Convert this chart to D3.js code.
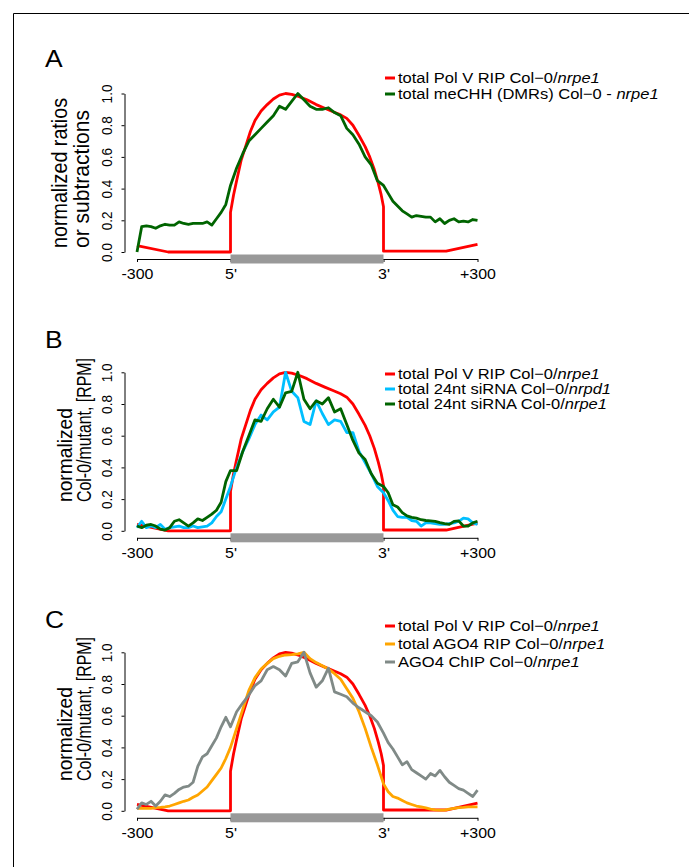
<!DOCTYPE html>
<html>
<head>
<meta charset="utf-8">
<script src="https://cdn.jsdelivr.net/npm/d3@7"></script>
<style>
  body { margin: 0; background: #fff; }
  svg { display: block; font-family: "Liberation Sans", Arial, sans-serif; }
</style>
</head>
<body>
<div id="chart"></div>
<script>
// bins: upstream flank in bp (-300..0), gene body in % (4..100), downstream flank shifted by 100 (+15..+300 -> 115..400)
const upBins = [-300, -285, -270, -255, -240, -225, -210, -195, -180, -165, -150, -135, -120, -105, -90, -75, -60, -45, -30, -15, 0];
const bodyBins = [4, 8, 12, 16, 20, 24, 28, 32, 36, 40, 44, 48, 52, 56, 60, 64, 68, 72, 76, 80, 84, 88, 92, 96, 100];
const downBins = [115, 130, 145, 160, 175, 190, 205, 220, 235, 250, 265, 280, 295, 310, 325, 340, 355, 370, 385, 400];
const bins = [...upBins, ...bodyBins, ...downBins];

const xTickPos = [-300, 0, 100, 400];
const xTickLabels = ["-300", "5'", "3'", "+300"];
const yTicks = [0, 0.2, 0.4, 0.6, 0.8, 1.0];

// total Pol V RIP Col-0/nrpe1 (same curve in all panels), own positions because of the steps at 5' and 3'
const polVPos = [-300, -200, 0, 0, 2, 4, 7, 10, 13, 16, 20, 24, 28, 32, 36, 40, 45, 50, 56, 62, 67, 72, 76, 80, 84, 88, 91, 94, 96.6, 98.5, 100, 100, 300, 400];
const polV = [0.04, 0.0, 0.0, 0.25, 0.36, 0.45, 0.58, 0.67, 0.76, 0.83, 0.89, 0.93, 0.965, 0.99, 1.0, 0.995, 0.98, 0.96, 0.93, 0.905, 0.885, 0.865, 0.843, 0.80, 0.735, 0.665, 0.60, 0.52, 0.433, 0.36, 0.286, 0.005, 0.005, 0.048];

// panel A: total meCHH (DMRs) Col-0 - nrpe1
const meCHH = [
  0.0, 0.16, 0.165, 0.16, 0.15, 0.165, 0.175, 0.17, 0.17, 0.19, 0.18, 0.175, 0.18, 0.18, 0.18, 0.19, 0.17, 0.21, 0.25, 0.30, 0.42,
  0.53, 0.62, 0.70, 0.74, 0.78, 0.82, 0.86, 0.92, 0.90, 0.95, 1.0, 0.96, 0.92, 0.90, 0.90, 0.91, 0.88, 0.86, 0.78, 0.74, 0.68, 0.60, 0.55, 0.45, 0.42,
  0.37, 0.32, 0.29, 0.26, 0.24, 0.22, 0.23, 0.225, 0.22, 0.22, 0.19, 0.21, 0.18, 0.20, 0.21, 0.19, 0.195, 0.19, 0.205, 0.20
];

// panel B: total 24nt siRNA Col-0/nrpd1 and Col-0/nrpe1
const sirnaNrpd1 = [
  0.02, 0.06, 0.02, 0.03, 0.02, 0.04, 0.01, 0.02, 0.025, 0.03, 0.02, 0.02, 0.03, 0.02, 0.025, 0.03, 0.05, 0.09, 0.12, 0.20, 0.28,
  0.40, 0.50, 0.58, 0.67, 0.73, 0.70, 0.75, 0.78, 1.0, 0.88, 0.84, 0.69, 0.67, 0.82, 0.74, 0.67, 0.70, 0.69, 0.62, 0.62, 0.50, 0.43, 0.36, 0.28, 0.24,
  0.19, 0.13, 0.09, 0.085, 0.085, 0.065, 0.06, 0.03, 0.05, 0.05, 0.045, 0.04, 0.04, 0.045, 0.05, 0.06, 0.08, 0.075, 0.05, 0.04
];
const sirnaNrpe1 = [
  0.03, 0.02, 0.035, 0.04, 0.03, 0.01, 0.005, 0.02, 0.06, 0.07, 0.05, 0.03, 0.05, 0.075, 0.065, 0.085, 0.105, 0.13, 0.18, 0.31, 0.38,
  0.38, 0.50, 0.60, 0.70, 0.69, 0.77, 0.83, 0.78, 0.87, 0.88, 1.0, 0.83, 0.77, 0.82, 0.80, 0.84, 0.75, 0.77, 0.67, 0.57, 0.49, 0.45, 0.36, 0.30, 0.28,
  0.24, 0.165, 0.15, 0.115, 0.094, 0.085, 0.08, 0.07, 0.065, 0.063, 0.06, 0.052, 0.045, 0.04, 0.06, 0.063, 0.03, 0.03, 0.05, 0.06
];

// panel C: total AGO4 RIP Col-0/nrpe1 and AGO4 ChIP Col-0/nrpe1
const ago4Rip = [
  0.015, 0.015, 0.015, 0.015, 0.02, 0.022, 0.025, 0.03, 0.04, 0.05, 0.06, 0.068, 0.085, 0.10, 0.125, 0.15, 0.19, 0.23, 0.27, 0.33, 0.40,
  0.52, 0.64, 0.76, 0.84, 0.895, 0.93, 0.96, 0.975, 0.983, 0.985, 0.99, 1.0, 0.96, 0.935, 0.915, 0.895, 0.865, 0.83, 0.77, 0.71, 0.625, 0.52, 0.40, 0.29, 0.17,
  0.12, 0.09, 0.08, 0.065, 0.05, 0.04, 0.03, 0.025, 0.018, 0.01, 0.006, 0.004, 0.004, 0.01, 0.015, 0.02, 0.022, 0.025, 0.025, 0.025
];
const ago4Chip = [
  0.01, 0.05, 0.04, 0.06, 0.03, 0.06, 0.10, 0.09, 0.11, 0.135, 0.15, 0.155, 0.18, 0.28, 0.34, 0.36, 0.41, 0.46, 0.53, 0.59, 0.53,
  0.625, 0.68, 0.73, 0.79, 0.82, 0.89, 0.91, 0.89, 0.85, 0.93, 0.94, 1.0, 0.87, 0.78, 0.82, 0.90, 0.75, 0.735, 0.72, 0.68, 0.65, 0.625, 0.60, 0.56, 0.49,
  0.43, 0.39, 0.34, 0.29, 0.31, 0.26, 0.24, 0.22, 0.20, 0.235, 0.22, 0.255, 0.215, 0.18, 0.16, 0.14, 0.13, 0.11, 0.09, 0.13
];

const width = 689, height = 867;
const fontScale = "scale(1.1,1)";

const svg = d3.select("#chart").append("svg")
    .attr("width", width)
    .attr("height", height);

svg.append("rect").attr("width", width).attr("height", height).attr("fill", "#fff");
// frame
svg.append("path").attr("d", "M13.5,867V13.5H689").attr("fill", "none").attr("stroke", "#000");

const x = d3.scaleLinear().domain([-300, 0, 100, 400]).range([137, 230.5, 383.5, 477.5]);

const panels = [
    {
        letter: "A", top: 93.5, letterY: 67,
        yTitle: [
            { text: "normalized ratios", x: 67, size: 19.5, len: 150 },
            { text: "or subtractions", x: 89, size: 19.5, len: 138 },
        ],
        titleStart: 248,
        series: [
            { pos: polVPos, values: polV, color: "#ff0000" },
            { pos: bins, values: meCHH, color: "#006400" },
        ],
        legend: [
            { text: "total Pol V RIP Col\u22120/", it: "nrpe1", color: "#ff0000" },
            { text: "total meCHH (DMRs) Col\u22120 - ", it: "nrpe1", color: "#006400" },
        ],
        legendY: [83, 99],
    },
    {
        letter: "B", top: 372.3, letterY: 348,
        yTitle: [
            { text: "normalized", x: 72, size: 18, len: 94 },
            { text: "Col-0/mutant, [RPM]", x: 91, size: 18, len: 144 },
        ],
        titleStart: 502,
        series: [
            { pos: polVPos, values: polV, color: "#ff0000" },
            { pos: bins, values: sirnaNrpd1, color: "#00bfff" },
            { pos: bins, values: sirnaNrpe1, color: "#006400" },
        ],
        legend: [
            { text: "total Pol V RIP Col\u22120/", it: "nrpe1", color: "#ff0000" },
            { text: "total 24nt siRNA Col\u22120/", it: "nrpd1", color: "#00bfff" },
            { text: "total 24nt siRNA Col-0/", it: "nrpe1", color: "#006400" },
        ],
        legendY: [379, 394, 409],
    },
    {
        letter: "C", top: 652.3, letterY: 628,
        yTitle: [
            { text: "normalized", x: 72, size: 18, len: 94 },
            { text: "Col-0/mutant, [RPM]", x: 91, size: 18, len: 144 },
        ],
        titleStart: 781,
        series: [
            { pos: polVPos, values: polV, color: "#ff0000" },
            { pos: bins, values: ago4Rip, color: "#ffa500" },
            { pos: bins, values: ago4Chip, color: "#808a87" },
        ],
        legend: [
            { text: "total Pol V RIP Col\u22120/", it: "nrpe1", color: "#ff0000" },
            { text: "total AGO4 RIP Col\u22120/", it: "nrpe1", color: "#ffa500" },
            { text: "AGO4 ChIP Col\u22120/", it: "nrpe1", color: "#808a87" },
        ],
        legendY: [631, 649, 667],
    },
];

panels.forEach(p => {
    const y = d3.scaleLinear().domain([0, 1]).range([p.top + 158.5, p.top]);
    const g = svg.append("g");

    // panel letter
    g.append("text")
        .attr("transform", `translate(45,${p.letterY}) ${fontScale}`)
        .style("font-size", "24px")
        .text(p.letter);

    // y axis title, two lines
    p.yTitle.forEach(line => {
        g.append("text")
            .attr("transform", `translate(${line.x},${p.titleStart}) ${fontScale} rotate(-90)`)
            .attr("text-anchor", "start")
            .attr("textLength", line.len)
            .attr("lengthAdjust", "spacingAndGlyphs")
            .style("font-size", line.size + "px")
            .text(line.text);
    });

    // y axis
    const yAxis = g.append("g")
        .attr("transform", "translate(124.5,0)")
        .call(d3.axisLeft(y).tickValues(yTicks).tickFormat(d3.format(".1f")).tickSize(3).tickSizeOuter(0));
    yAxis.selectAll("text")
        .attr("x", null).attr("dy", null)
        .attr("text-anchor", "middle")
        .attr("transform", `translate(-12.5,0) ${fontScale} rotate(-90)`)
        .style("font-size", "13.5px")
        .style("font-family", "inherit");

    // x axis
    const xAxis = g.append("g")
        .attr("transform", `translate(0,${y(0) + 7})`)
        .call(d3.axisBottom(x).tickValues(xTickPos).tickFormat((d, i) => xTickLabels[i]).tickSize(3).tickSizeOuter(0));
    xAxis.selectAll("text")
        .attr("y", null).attr("dy", null)
        .attr("transform", `translate(0,20) ${fontScale}`)
        .style("font-size", "14.5px")
        .style("font-family", "inherit");

    // gene body bar
    g.append("rect")
        .attr("x", x(0))
        .attr("width", x(100) - x(0))
        .attr("y", y(0) + 2.5)
        .attr("height", 9)
        .attr("fill", "#999999");

    // curves
    const line = d3.line()
        .x(d => x(d[0]))
        .y(d => y(d[1]));
    p.series.forEach(s => {
        g.append("path")
            .datum(d3.zip(s.pos, s.values))
            .attr("d", line)
            .attr("fill", "none")
            .attr("stroke", s.color)
            .attr("stroke-width", 2.8)
            .attr("stroke-linejoin", "round");
    });

    // legend
    p.legend.forEach((item, i) => {
        const ly = p.legendY[i];
        g.append("line")
            .attr("x1", 385).attr("x2", 395)
            .attr("y1", ly - 5).attr("y2", ly - 5)
            .attr("stroke", item.color)
            .attr("stroke-width", 3);
        const t = g.append("text")
            .attr("transform", `translate(398,${ly}) ${fontScale}`)
            .style("font-size", "15px");
        t.append("tspan").text(item.text);
        t.append("tspan").style("font-style", "italic").text(item.it);
    });
});
</script>
</body>
</html>
